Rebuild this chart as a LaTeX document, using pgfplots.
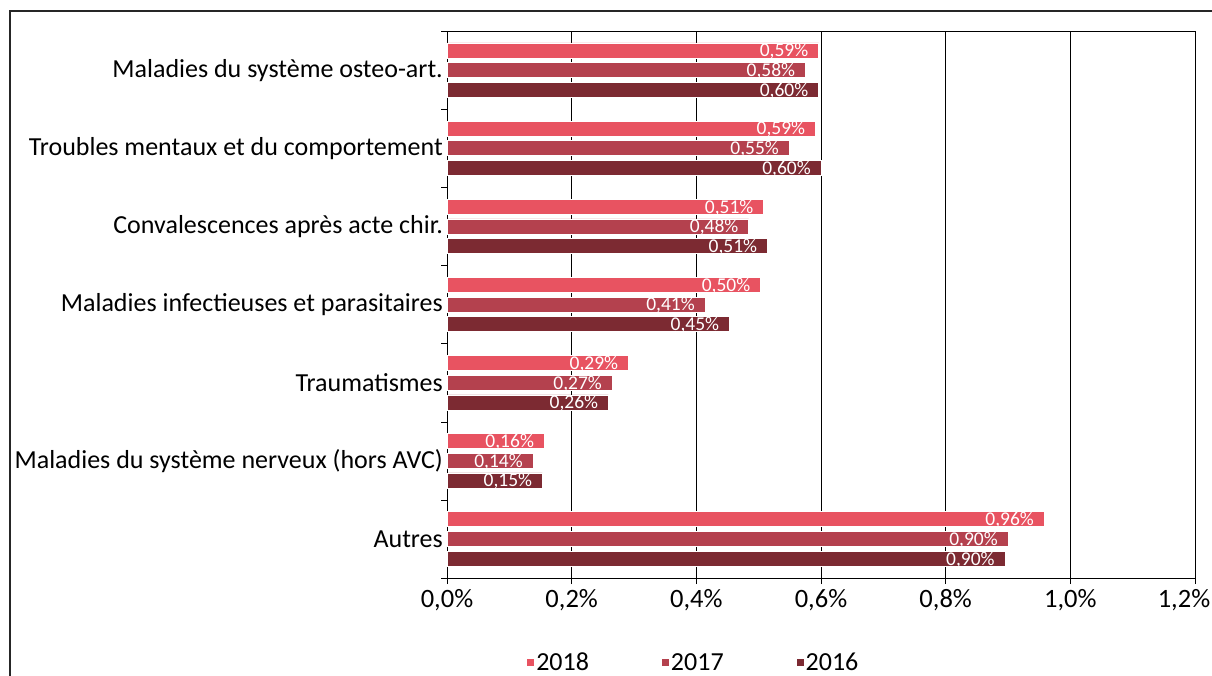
\documentclass[border=0pt]{standalone}
\usepackage{pgfplots}
\pgfplotsset{compat=1.18}
\usepackage{fontspec}
\setmainfont{Carlito}
\definecolor{c18}{RGB}{232,83,97}
\definecolor{c17}{RGB}{180,65,78}
\definecolor{c16}{RGB}{124,42,50}
\begin{document}
\begin{tikzpicture}
\path[use as bounding box] (0,0) rectangle (1212pt,675pt);
\clip (0,0) rectangle (1212pt,675pt);
\draw[line width=1.3pt, black!85] (10pt,664pt) rectangle (1260pt,-60pt);
\begin{axis}[
  at={(447pt,97pt)}, anchor=south west,
  scale only axis, width=748pt, height=547pt,
  xbar, bar width=15pt,
  xmin=0, xmax=1.2, ymin=-0.5, ymax=6.5,
  xtick={0,0.2,0.4,0.6,0.8,1.0,1.2},
  xticklabels={{0,0\%},{0,2\%},{0,4\%},{0,6\%},{0,8\%},{1,0\%},{\hspace*{-22pt}1,2\%}},
  ytick={0,1,2,3,4,5,6},
  yticklabels={Autres,Maladies du système nerveux (hors AVC),Traumatismes,Maladies infectieuses et parasitaires,Convalescences après acte chir.,Troubles mentaux et du comportement,Maladies du système osteo-art.},
  minor ytick={-0.5,0.5,1.5,2.5,3.5,4.5,5.5,6.5},
  major tick length=6pt, minor tick length=6pt,
  major y tick style={draw=none},
  tick align=outside,
  tick pos=left,
  tick style={draw=black, thin},
  xmajorgrids, major grid style={draw=black, line width=0.9pt},
  axis line style={draw=black, line width=1pt},
  yticklabel style={inner sep=0pt, xshift=2pt, font=\fontsize{26}{30}\selectfont},
  xticklabel style={yshift=-2pt, font=\fontsize{26.5}{30}\selectfont},
  point meta=explicit symbolic,
  nodes near coords,
  every node near coord/.append style={anchor=east, text=white, inner sep=1pt, xshift=-9pt, yshift=-1pt, font=\fontsize{19.5}{21}\selectfont},
  legend style={at={(0.33,-0.154)}, anchor=center, legend columns=3, draw=none, fill=none, font=\fontsize{26}{30}\selectfont, nodes={text height=17pt, text depth=0pt}, /tikz/every even column/.append style={column sep=71pt}},
  legend image code/.code={\fill[#1, draw=none] (0pt,-3.5pt) rectangle (7pt,3.5pt);},
]
\addplot[fill=c18, draw=white, line width=0.6pt, bar shift=19.7pt] coordinates {
(0.958,0) [0,96\%]
(0.156,1) [0,16\%]
(0.291,2) [0,29\%]
(0.503,3) [0,50\%]
(0.508,4) [0,51\%]
(0.591,5) [0,59\%]
(0.596,6) [0,59\%]
};
\addplot[fill=c17, draw=white, line width=0.6pt, bar shift=0pt] coordinates {
(0.900,0) [0,90\%]
(0.138,1) [0,14\%]
(0.265,2) [0,27\%]
(0.414,3) [0,41\%]
(0.484,4) [0,48\%]
(0.549,5) [0,55\%]
(0.575,6) [0,58\%]
};
\addplot[fill=c16, draw=white, line width=0.6pt, bar shift=-19.7pt] coordinates {
(0.895,0) [0,90\%]
(0.153,1) [0,15\%]
(0.259,2) [0,26\%]
(0.453,3) [0,45\%]
(0.514,4) [0,51\%]
(0.600,5) [0,60\%]
(0.596,6) [0,60\%]
};
\legend{2018,2017,2016}
\end{axis}
\end{tikzpicture}
\end{document}
